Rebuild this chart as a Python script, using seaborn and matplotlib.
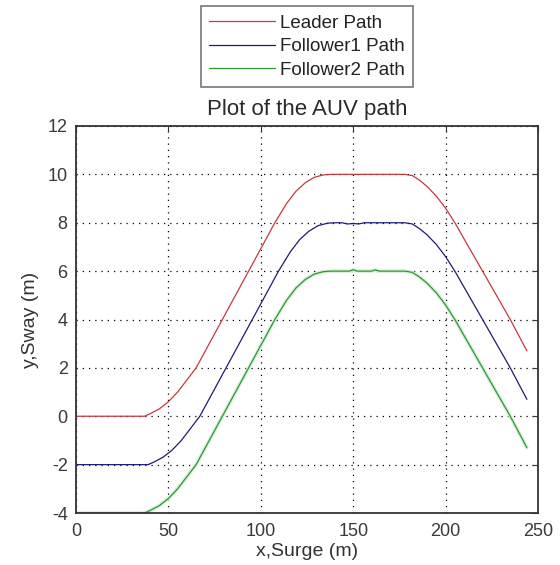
import matplotlib
matplotlib.use("Agg")
import matplotlib.pyplot as plt
import seaborn as sns
import pandas as pd

# ---- data ----
leader_x = [0, 37, 40, 45, 50, 55, 60, 65, 72.1, 79.2, 86.3, 93.4, 100.5, 107.6, 114, 119, 124, 129, 134, 138,
            178, 182, 186, 190, 195, 200, 205, 212.5, 220, 227.5, 235, 244]
leader_y = [0, 0, 0.1, 0.3, 0.6, 1.0, 1.5, 2.0, 3.0, 4.0, 5.0, 6.0, 7.0, 8.0, 8.8, 9.3, 9.65, 9.88, 9.98, 10.0,
            10.0, 9.95, 9.75, 9.5, 9.1, 8.6, 8.0, 7.0, 6.0, 5.0, 4.0, 2.7]

f1_x = [0, 39, 42, 47, 52, 57, 62, 67, 74.1, 81.2, 88.3, 95.4, 102.5, 109.6, 116, 121, 126, 131, 136, 140,
        144, 147, 150, 153, 156, 178, 182, 186, 190, 195, 200, 205, 212.5, 220, 227.5, 235, 244]
f1_y = [-2, -2, -1.9, -1.7, -1.4, -1.0, -0.5, 0.0, 1.0, 2.0, 3.0, 4.0, 5.0, 6.0, 6.8, 7.3, 7.65, 7.88, 7.98, 8.0,
        8.0, 7.95, 7.97, 7.95, 8.0, 8.0, 7.95, 7.75, 7.5, 7.1, 6.6, 6.0, 5.0, 4.0, 3.0, 2.0, 0.7]

f2_x = [0, 37, 40, 45, 50, 55, 60, 65, 72.1, 79.2, 86.3, 93.4, 100.5, 107.6, 114, 119, 124, 129, 134, 138,
        148, 150, 152, 160, 162, 164, 178, 182, 186, 190, 195, 200, 205, 212.5, 220, 227.5, 235, 244]
f2_y = [-4, -4, -3.9, -3.7, -3.4, -3.0, -2.5, -2.0, -1.0, 0.0, 1.0, 2.0, 3.0, 4.0, 4.8, 5.3, 5.65, 5.88, 5.98, 6.0,
        6.0, 6.06, 6.0, 6.0, 6.05, 6.0, 6.0, 5.95, 5.75, 5.5, 5.1, 4.6, 4.0, 3.0, 2.0, 1.0, 0.0, -1.3]

series_names = ["Leader Path", "Follower1 Path", "Follower2 Path"]
x_ticks = [0, 50, 100, 150, 200, 250]
y_ticks = [-4, -2, 0, 2, 4, 6, 8, 10, 12]

sns.set_style("white")
plt.rcParams["font.family"] = ["Liberation Sans", "DejaVu Sans"]
plt.rcParams["axes.unicode_minus"] = False

fig = plt.figure(figsize=(5.6, 5.65), dpi=100)
ax = fig.add_axes([76 / 560, 1 - 513 / 565, (538 - 76) / 560, (513 - 126) / 565])

colors = ["#c8383c", "#1c1c78", "#2e9a34"]
frames = [pd.DataFrame({"x": leader_x, "y": leader_y}),
          pd.DataFrame({"x": f1_x, "y": f1_y}),
          pd.DataFrame({"x": f2_x, "y": f2_y})]

# soft glow under the green line, as in the reference
sns.lineplot(data=frames[2], x="x", y="y", sort=False, ax=ax, color="#d6efd6",
             linewidth=2.6, legend=False, zorder=1)
handles = []
for df, c, name in zip(frames, colors, series_names):
    sns.lineplot(data=df, x="x", y="y", sort=False, ax=ax, color=c,
                 linewidth=0.9, legend=False, zorder=2)
    handles.append(ax.lines[-1])

ax.set_xlim(0, 250)
ax.set_ylim(-4, 12)
ax.set_xticks(x_ticks)
ax.set_yticks(y_ticks)
ax.grid(True, linestyle=(0, (1, 4)), color="black", linewidth=0.9)
ax.tick_params(direction="in", top=True, right=True, length=4, width=0.8,
               labelsize=13, colors="#333333", labelcolor="#3a3a3a")
ax.tick_params(axis="x", pad=7)
ax.tick_params(axis="y", pad=6)
for s in ax.spines.values():
    s.set_color("#333333")
    s.set_linewidth(1.3)
    s.set_zorder(5)

ax.set_xlabel("x,Surge (m)", fontsize=14, color="#333333", labelpad=2)
ax.set_ylabel("y,Sway (m)", fontsize=14, color="#333333", labelpad=6)
ax.set_title("Plot of the AUV path", fontsize=16, color="#2a2a2a", pad=8)

leg = fig.legend(handles, series_names, loc="upper center",
                 bbox_to_anchor=(307 / 560, 1 - 6 / 565), fontsize=13.5,
                 handlelength=3.5, handletextpad=0.25, borderpad=0.45,
                 labelspacing=0.35, borderaxespad=0, frameon=True, fancybox=False)
leg.get_frame().set_edgecolor("#555555")
leg.get_frame().set_linewidth(1.2)
for t in leg.get_texts():
    t.set_color("#222222")

fig.savefig("out.png", dpi=100)
